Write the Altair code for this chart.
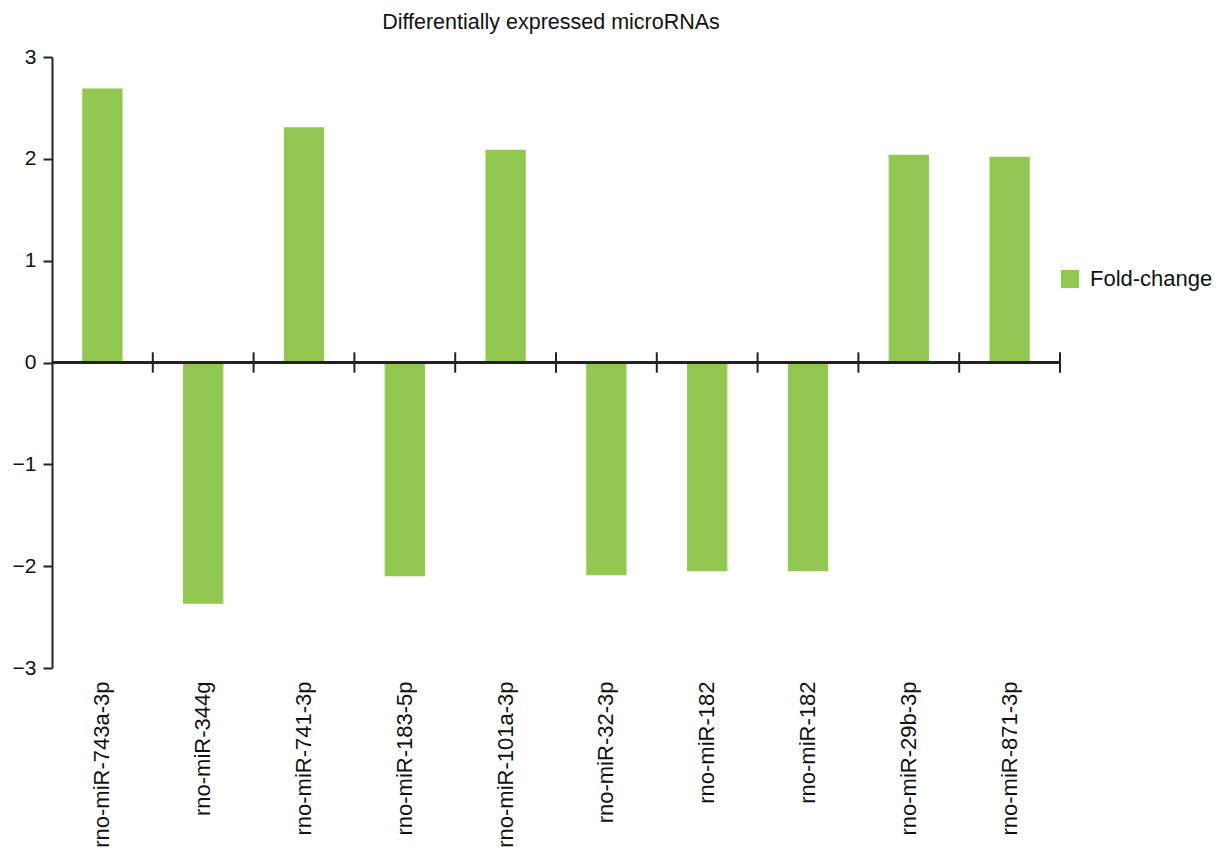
import altair as alt
import pandas as pd

categories = ["rno-miR-743a-3p", "rno-miR-344g", "rno-miR-741-3p", "rno-miR-183-5p",
              "rno-miR-101a-3p", "rno-miR-32-3p", "rno-miR-182", "rno-miR-182",
              "rno-miR-29b-3p", "rno-miR-871-3p"]
fold_change = [2.69, -2.37, 2.31, -2.10, 2.09, -2.09, -2.05, -2.05, 2.04, 2.02]
series_name = "Fold-change"
title_text = "Differentially expressed microRNAs"

df = pd.DataFrame({
    "idx": list(range(len(categories))),
    "name": categories,
    "value": fold_change,
    "series": [series_name] * len(categories),
})

label_map = "{" + ",".join(f"'{i}':'{c}'" for i, c in enumerate(categories)) + "}"

FONT = "Liberation Sans"
GREEN = "#92C851"

x_enc = alt.X(
    "idx:O",
    scale=alt.Scale(paddingInner=0, paddingOuter=0),
    axis=alt.Axis(
        title=None,
        labelExpr=f"{label_map}[datum.value]",
        labelAngle=-90,
        labelAlign="right",
        labelBaseline="middle",
        labelFontSize=22,
        labelFont=FONT,
        labelColor="#111",
        labelPadding=13,
        labelLimit=400,
        ticks=False,
        domain=False,
    ),
)

y_scale = alt.Scale(domain=[-3, 3], nice=False)

bars = alt.Chart(df).mark_bar(width={"band": 0.4}).encode(
    x=x_enc,
    y=alt.Y(
        "value:Q",
        scale=y_scale,
        axis=alt.Axis(
            title=None,
            values=[-3, -2, -1, 0, 1, 2, 3],
            format="d",
            grid=False,
            tickSize=9,
            tickWidth=2,
            tickColor="#222",
            domainColor="#222",
            domainWidth=2,
            labelFontSize=21,
            labelFont=FONT,
            labelColor="#111",
            labelPadding=7,
        ),
    ),
    color=alt.Color(
        "series:N",
        scale=alt.Scale(range=[GREEN]),
        legend=alt.Legend(
            title=None,
            orient="none",
            legendX=1007,
            legendY=211,
            symbolType="square",
            symbolSize=330,
            symbolStrokeWidth=0,
            labelFontSize=22,
            labelFont=FONT,
            labelColor="#111",
            labelOffset=9,
            labelLimit=300,
        ),
    ),
)

zero_line = alt.Chart(df).mark_rule(color="#222", strokeWidth=2).encode(
    y=alt.datum(0, scale=y_scale),
    x=alt.value(0),
    x2=alt.value(1008),
)

separators = alt.Chart(df).transform_calculate(
    lo="-0.1", hi="0.1"
).mark_rule(color="#222", strokeWidth=2).encode(
    x=alt.X("idx:O", bandPosition=1),
    y=alt.Y("lo:Q", scale=y_scale),
    y2="hi:Q",
)

chart = alt.layer(bars, zero_line, separators).properties(
    width=1008,
    height=611,
    title=alt.TitleParams(
        title_text, fontSize=21.5, font=FONT, fontWeight="normal", color="#111",
        anchor="middle", offset=13, dx=-5,
    ),
    autosize=alt.AutoSizeParams(type="none"),
    padding={"left": 44, "top": 49, "right": 155, "bottom": 181},
).configure_view(stroke=None)

chart.save("out.html", embed_options={"renderer": "svg", "actions": False})
